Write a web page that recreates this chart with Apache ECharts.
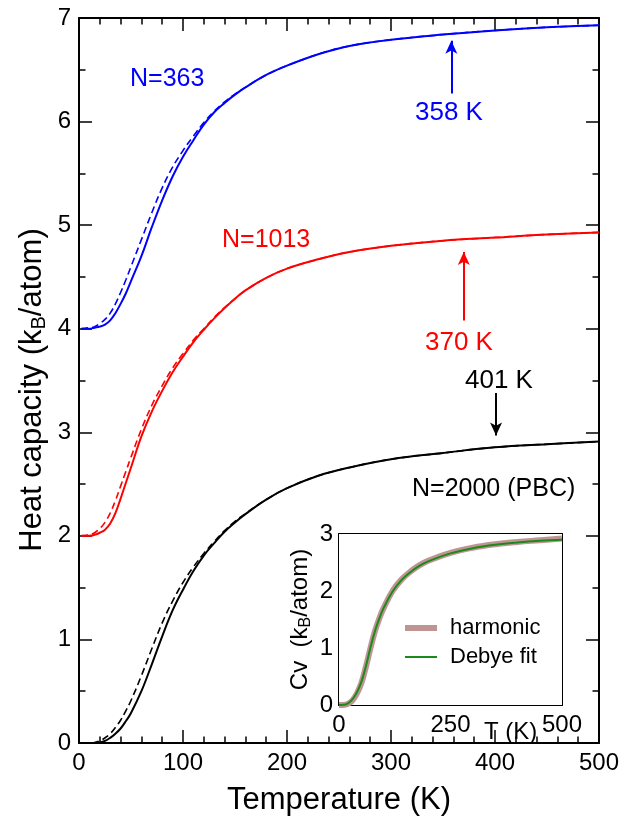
<!DOCTYPE html>
<html>
<head>
<meta charset="utf-8">
<script src="https://cdn.jsdelivr.net/npm/echarts@6/dist/echarts.min.js"></script>
<style>
  html, body { margin: 0; padding: 0; background: #fff; }
  #chart { width: 635px; height: 821px; }
</style>
</head>
<body>
<div id="chart"></div>
<script>
// 温度 (K)
const temps = [2, 10, 15, 20, 25, 30, 35, 40, 45, 50, 60, 70, 80, 90, 100, 110, 120, 130, 140, 150, 160, 180, 200, 230, 260, 300, 350, 400, 450, 500];

// N=2000 (PBC)
const pbcSolid  = [0, 0, 0, 0.005, 0.02, 0.05, 0.09, 0.14, 0.21, 0.29, 0.50, 0.76, 1.03, 1.28, 1.48, 1.66, 1.81, 1.93, 2.04, 2.13, 2.21, 2.35, 2.46, 2.58, 2.66, 2.74, 2.80, 2.855, 2.885, 2.91];
const pbcDashed = [0, 0, 0.005, 0.02, 0.05, 0.09, 0.15, 0.22, 0.31, 0.41, 0.65, 0.91, 1.16, 1.37, 1.55, 1.70, 1.83, 1.945, 2.05, 2.14, 2.215, 2.35, 2.46, 2.58, 2.66, 2.74, 2.80, 2.855, 2.885, 2.91];
// N=1013 (+2)
const n1013Solid  = [2.0, 2.0, 2.01, 2.03, 2.06, 2.12, 2.22, 2.36, 2.51, 2.66, 2.96, 3.20, 3.40, 3.58, 3.73, 3.87, 3.99, 4.10, 4.20, 4.29, 4.37, 4.49, 4.58, 4.67, 4.74, 4.80, 4.85, 4.88, 4.91, 4.93];
const n1013Dashed = [2.0, 2.01, 2.03, 2.07, 2.13, 2.22, 2.34, 2.48, 2.62, 2.76, 3.03, 3.26, 3.45, 3.62, 3.76, 3.89, 4.00, 4.11, 4.205, 4.29, 4.37, 4.49, 4.58, 4.67, 4.74, 4.80, 4.85, 4.88, 4.91, 4.93];
// N=363 (+4)
const n363Solid  = [4.0, 4.0, 4.01, 4.02, 4.04, 4.08, 4.15, 4.24, 4.34, 4.46, 4.70, 4.98, 5.24, 5.47, 5.66, 5.82, 5.97, 6.09, 6.18, 6.26, 6.33, 6.45, 6.54, 6.65, 6.73, 6.79, 6.84, 6.88, 6.91, 6.93];
const n363Dashed = [4.0, 4.01, 4.02, 4.05, 4.09, 4.15, 4.24, 4.35, 4.47, 4.60, 4.86, 5.12, 5.36, 5.56, 5.72, 5.86, 5.99, 6.10, 6.19, 6.265, 6.33, 6.45, 6.54, 6.65, 6.73, 6.79, 6.84, 6.88, 6.91, 6.93];

// 箭头: 温度, 起点, 终点
const arrowT    = [358, 370, 401];
const arrowFrom = [6.27, 4.08, 3.38];
const arrowTo   = [6.78, 4.74, 2.97];

// 插图
const insetTemps = [0, 10, 20, 30, 40, 50, 60, 70, 80, 90, 100, 120, 140, 160, 180, 200, 250, 300, 350, 400, 450, 500];
const harmonic   = [0, 0, 0.02, 0.08, 0.20, 0.38, 0.66, 0.98, 1.28, 1.51, 1.70, 2.00, 2.20, 2.34, 2.45, 2.53, 2.67, 2.76, 2.82, 2.86, 2.89, 2.92];
const debyeFit   = [0, 0.003, 0.03, 0.10, 0.22, 0.40, 0.67, 0.99, 1.28, 1.51, 1.70, 1.99, 2.19, 2.33, 2.44, 2.52, 2.66, 2.75, 2.81, 2.85, 2.88, 2.90];

const FONT = 'Liberation Sans, Arial, Helvetica, sans-serif';

function pairs(xs, ys) {
    return xs.map(function (x, i) { return [x, ys[i]]; });
}

function arrowLine(i, color) {
    return {
        silent: true,
        symbol: ['none', 'arrow'],
        symbolSize: [9, 13],
        label: { show: false },
        lineStyle: { color: color, width: 2, type: 'solid' },
        data: [[{ coord: [arrowT[i], arrowFrom[i]] }, { coord: [arrowT[i], arrowTo[i]] }]]
    };
}

function curve(name, data, color, dashed, xi, yi, width) {
    return {
        name: name,
        type: 'line',
        xAxisIndex: xi,
        yAxisIndex: yi,
        data: data,
        smooth: 0.4,
        symbol: 'none',
        showSymbol: false,
        lineStyle: { color: color, width: width, type: dashed ? [7, 4] : 'solid' },
        itemStyle: { color: color },
        z: 3
    };
}

// 坐标轴 (刻度朝内)
function axis(type, grid, pos, min, max, interval, minorSplit, showLabel, tickLen) {
    return {
        type: 'value',
        gridIndex: grid,
        position: pos,
        min: min,
        max: max,
        interval: interval,
        axisLine: { show: true, onZero: false, lineStyle: { color: '#000', width: 2 } },
        axisTick: { show: true, inside: true, length: tickLen, lineStyle: { color: '#000', width: 1.5 } },
        minorTick: { show: true, splitNumber: minorSplit, length: tickLen / 2, lineStyle: { color: '#000', width: 1.5 } },
        splitLine: { show: false },
        axisLabel: {
            show: showLabel,
            color: '#000',
            fontFamily: FONT,
            fontSize: 24,
            margin: 8
        }
    };
}

var dom = document.getElementById('chart');
var myChart = echarts.init(dom, null, { renderer: 'canvas' });

var xMainBottom = axis('x', 0, 'bottom', 0, 500, 100, 5, true, 13);
xMainBottom.name = 'Temperature (K)';
xMainBottom.nameLocation = 'middle';
xMainBottom.nameGap = 42;
xMainBottom.nameTextStyle = { color: '#000', fontFamily: FONT, fontSize: 31 };

var yMainLeft = axis('y', 0, 'left', 0, 7, 1, 2, true, 13);

var xInsetBottom = axis('x', 1, 'bottom', 0, 500, 250, 5, true, 13);
var yInsetLeft = axis('y', 1, 'left', 0, 3, 1, 2, true, 13);
yInsetLeft.axisLabel.margin = 6;
yInsetLeft.name = '{n|Cv  (k}{s|B}{n|/atom)}';
yInsetLeft.nameLocation = 'middle';
yInsetLeft.nameGap = 25;
yInsetLeft.nameTextStyle = {
    color: '#000', fontFamily: FONT, fontSize: 24,
    rich: {
        n: { color: '#000', fontFamily: FONT, fontSize: 24 },
        s: { color: '#000', fontFamily: FONT, fontSize: 16, padding: [11, 0, 0, 0] }
    }
};

var option = {
    animation: false,
    backgroundColor: '#fff',
    grid: [
        { left: 79, top: 18, width: 520, height: 739 },
        { left: 339, top: 534, width: 223, height: 171, show: true, backgroundColor: '#fff', borderWidth: 0, z: 5 }
    ],
    xAxis: [
        xMainBottom,
        axis('x', 0, 'top', 0, 500, 100, 5, false, 13),
        xInsetBottom,
        axis('x', 1, 'top', 0, 500, 250, 5, false, 13)
    ],
    yAxis: [
        yMainLeft,
        axis('y', 0, 'right', 0, 7, 1, 2, false, 13),
        yInsetLeft,
        axis('y', 1, 'right', 0, 3, 1, 2, false, 13)
    ],
    legend: {
        data: [
            { name: 'harmonic', icon: 'path://M0,0M32,14M0,4H32V10H0Z' },
            { name: 'Debye fit', icon: 'path://M0,0M32,14M0,6H32V8H0Z' }
        ],
        orient: 'vertical',
        left: 400,
        top: 612,
        itemWidth: 32,
        itemHeight: 14,
        itemGap: 7,
        textStyle: { color: '#000', fontFamily: FONT, fontSize: 22, padding: [0, 0, 0, 8] },
        z: 10
    },
    series: [
        Object.assign(curve('pbc', pairs(temps, pbcSolid), '#000', false, 0, 0, 2), { markLine: arrowLine(2, '#000') }),
        curve('pbc-d', pairs(temps, pbcDashed), '#000', true, 0, 0, 1.6),
        Object.assign(curve('n1013', pairs(temps, n1013Solid), '#ff0000', false, 0, 0, 2), { markLine: arrowLine(1, '#ff0000') }),
        curve('n1013-d', pairs(temps, n1013Dashed), '#ff0000', true, 0, 0, 1.6),
        Object.assign(curve('n363', pairs(temps, n363Solid), '#0000ff', false, 0, 0, 2), { markLine: arrowLine(0, '#0000ff') }),
        curve('n363-d', pairs(temps, n363Dashed), '#0000ff', true, 0, 0, 1.6),
        Object.assign(curve('harmonic', pairs(insetTemps, harmonic), '#c19494', false, 2, 2, 6), { z: 6 }),
        Object.assign(curve('Debye fit', pairs(insetTemps, debyeFit), '#1a8a1a', false, 2, 2, 2), { z: 7 })
    ],
    graphic: [
        {
            type: 'text', x: 32, y: 390, rotation: Math.PI / 2,
            style: {
                text: '{n|Heat capacity (k}{s|B}{n|/atom)}',
                align: 'center', verticalAlign: 'middle',
                rich: {
                    n: { fill: '#000', fontFamily: FONT, fontSize: 31 },
                    s: { fill: '#000', fontFamily: FONT, fontSize: 20, padding: [14, 0, 0, 0] }
                }
            }
        },
        { type: 'text', left: 130, top: 67, style: { text: 'N=363', fill: '#0000ff', font: '25px ' + FONT } },
        { type: 'text', left: 415, top: 100, style: { text: '358 K', fill: '#0000ff', font: '26px ' + FONT } },
        { type: 'text', left: 222, top: 228, style: { text: 'N=1013', fill: '#ff0000', font: '25px ' + FONT } },
        { type: 'text', left: 425, top: 330, style: { text: '370 K', fill: '#ff0000', font: '26px ' + FONT } },
        { type: 'text', left: 465, top: 368, style: { text: '401 K', fill: '#000', font: '26px ' + FONT } },
        { type: 'text', left: 412, top: 477, style: { text: 'N=2000 (PBC)', fill: '#000', font: '25px ' + FONT } },
        { type: 'text', left: 484, top: 720, z: 20, style: { text: 'T (K)', fill: '#000', font: '24px ' + FONT } }
    ]
};

myChart.setOption(option, true);
</script>
</body>
</html>
